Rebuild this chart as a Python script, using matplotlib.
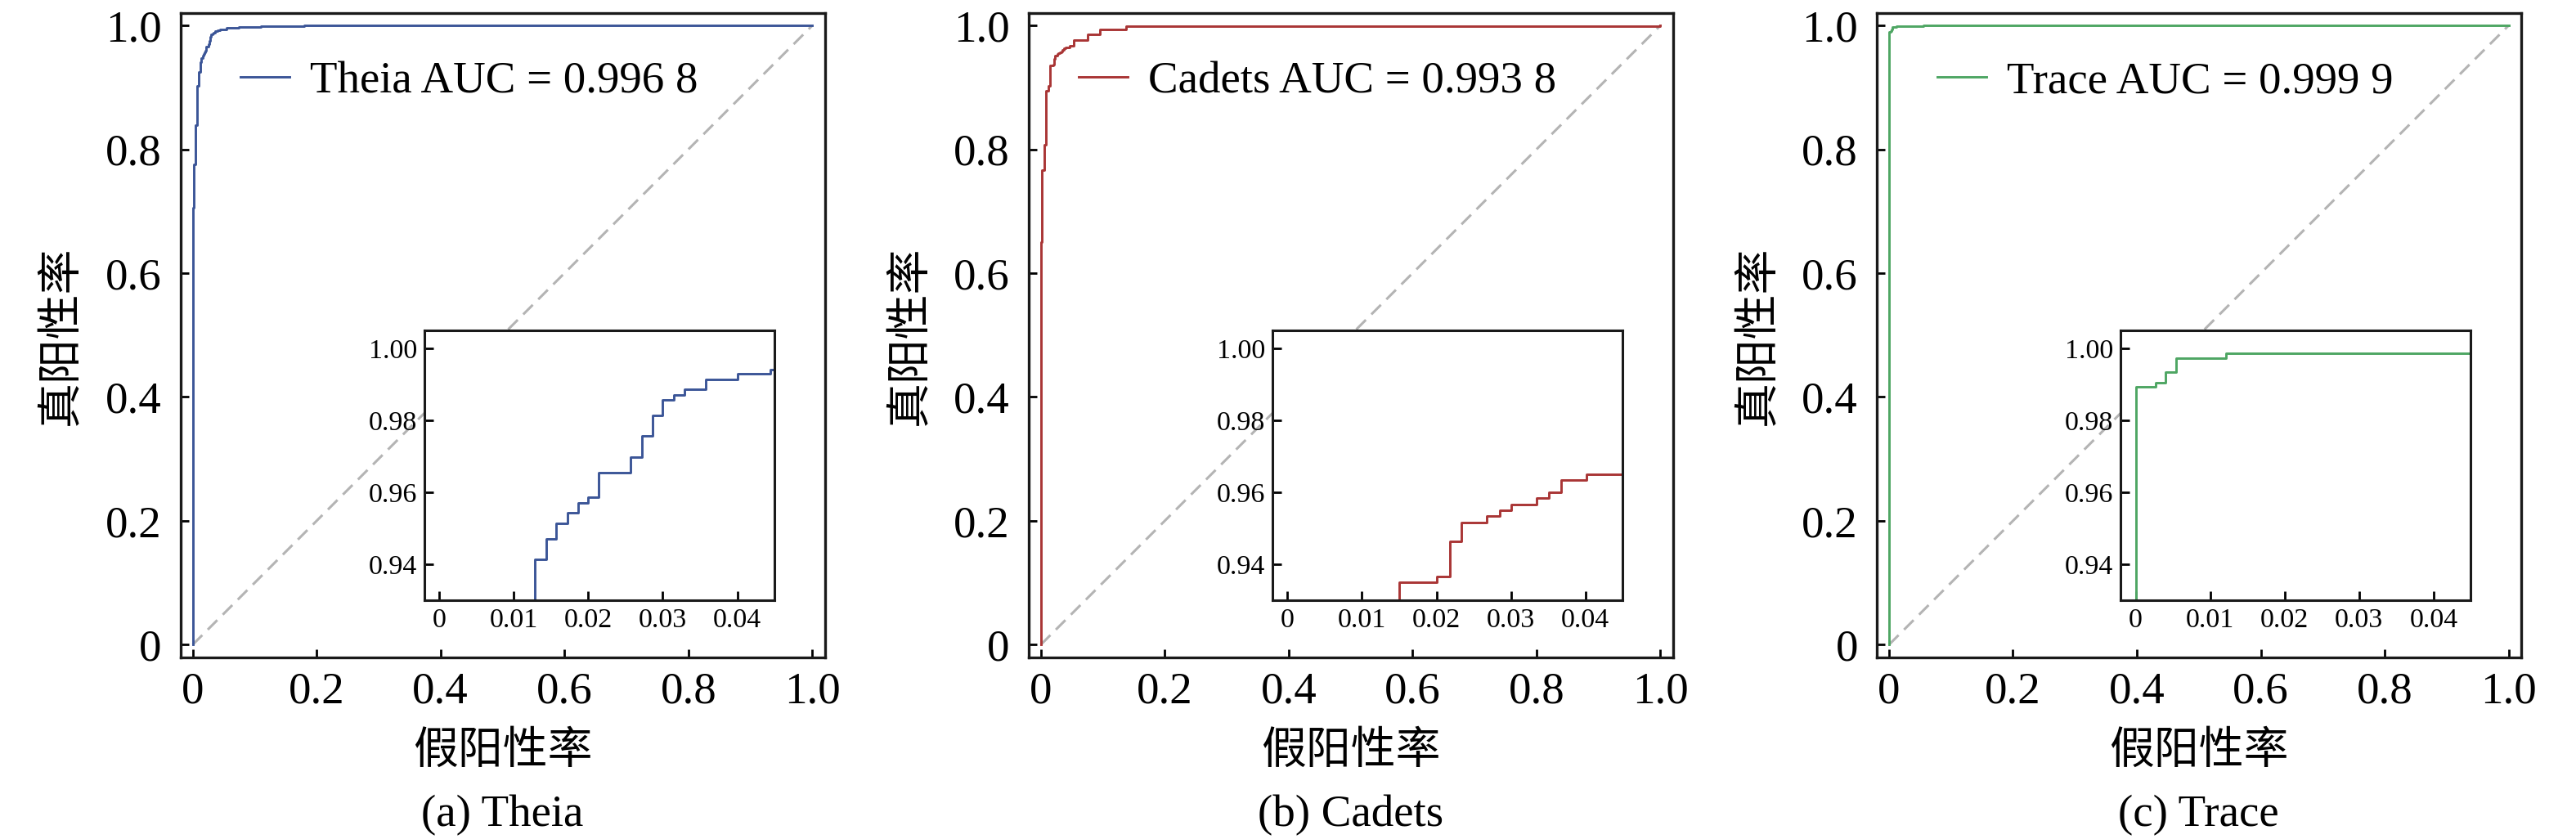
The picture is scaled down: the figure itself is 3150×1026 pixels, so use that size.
import matplotlib
matplotlib.use("Agg")
import matplotlib.pyplot as plt

plt.rcParams['font.family'] = ['Liberation Serif', 'DejaVu Serif']
plt.rcParams['mathtext.fontset'] = 'stix'

# ---------------- data ----------------
datasets = ["Theia", "Cadets", "Trace"]
panel_titles = ["(a) Theia", "(b) Cadets", "(c) Trace"]
auc_labels = ["Theia AUC = 0.996 8", "Cadets AUC = 0.993 8", "Trace AUC = 0.999 9"]
colors = ["#3b5597", "#a93535", "#4ea663"]

theia_fpr = [0.0, 0.0, 0.0022, 0.0044, 0.0075, 0.0100, 0.0128, 0.0143, 0.0157,
             0.0172, 0.0186, 0.0200, 0.0214, 0.0257, 0.0272, 0.0286, 0.0300,
             0.0315, 0.0329, 0.0358, 0.0400, 0.0444, 0.055, 0.075, 0.11, 0.18, 1.0]
theia_tpr = [0.0, 0.706, 0.776, 0.839, 0.902, 0.925, 0.9414, 0.9471, 0.9514,
             0.9543, 0.9571, 0.9586, 0.9656, 0.9699, 0.9757, 0.9815, 0.9857,
             0.9872, 0.9886, 0.9915, 0.9929, 0.9942, 0.9958, 0.9975, 0.9988, 1.0, 1.0]

cadets_fpr = [0.0, 0.0, 0.0022, 0.0050, 0.0088, 0.0120, 0.0150, 0.0200, 0.0218,
              0.0234, 0.0268, 0.0285, 0.0301, 0.0334, 0.0351, 0.0368, 0.0401,
              0.046, 0.053, 0.075, 0.095, 0.137, 1.0]
cadets_tpr = [0.0, 0.650, 0.766, 0.808, 0.895, 0.902, 0.935, 0.9367, 0.9465,
              0.9517, 0.9534, 0.9550, 0.9566, 0.9584, 0.9601, 0.9634, 0.9650,
              0.967, 0.976, 0.986, 0.993, 0.999, 1.0]

trace_fpr = [0.0, 0.0, 0.00265, 0.0040, 0.0054, 0.0121, 0.055, 1.0]
trace_tpr = [0.0, 0.9893, 0.9906, 0.9934, 0.9974, 0.9987, 1.0, 1.0]

fprs = [theia_fpr, cadets_fpr, trace_fpr]
tprs = [theia_tpr, cadets_tpr, trace_tpr]

main_ticks = [0, 0.2, 0.4, 0.6, 0.8, 1.0]
main_ticklabels = ["0", "0.2", "0.4", "0.6", "0.8", "1.0"]
inset_xticks = [0, 0.01, 0.02, 0.03, 0.04]
inset_xticklabels = ["0", "0.01", "0.02", "0.03", "0.04"]
inset_yticks = [0.94, 0.96, 0.98, 1.00]
inset_yticklabels = ["0.94", "0.96", "0.98", "1.00"]

xlabel = "假阳性率"
ylabel = "真阳性率"

# ---------------- layout ----------------
W, H = 3150, 1026
fig = plt.figure(figsize=(W / 100, H / 100), dpi=100)

ax_w, ax_h = 788, 787.5
lefts = [220.5, 1257.6, 2294.8]
bottom_px = 803.5
cjk = ['Noto Sans CJK SC', 'DejaVu Sans']
FS = 39.5

for i in range(3):
    ax = fig.add_axes([lefts[i] / W, (H - bottom_px) / H, ax_w / W, ax_h / H])
    ax.plot([0, 1], [0, 1], color="#b4b4b4", lw=2.2, linestyle=(0, (5.4, 3.1)), zorder=1)
    ax.plot(fprs[i], tprs[i], drawstyle="steps-post", color=colors[i], lw=2.1,
            label=auc_labels[i], zorder=3)
    ax.set_xlim(-0.02, 1.02)
    ax.set_ylim(-0.02, 1.02)
    ax.set_xticks(main_ticks)
    ax.set_xticklabels(main_ticklabels)
    ax.set_yticks(main_ticks)
    ax.set_yticklabels(main_ticklabels)
    ax.tick_params(axis='both', direction='in', length=7.5, width=2.0,
                   labelsize=FS, top=False, right=False)
    ax.tick_params(axis='x', pad=12.5)
    ax.tick_params(axis='y', pad=16.5)
    for s in ax.spines.values():
        s.set_linewidth(2.4)
        s.set_color("#1a1a1a")

    ax.set_xlabel(xlabel, fontsize=FS, family=cjk)
    ax.xaxis.set_label_coords(0.5, (bottom_px - 918) / ax_h)
    ax.xaxis.label.set_va('center')
    ax.set_ylabel(ylabel, fontsize=FS, family=cjk)
    ax.yaxis.set_label_coords(-146.5 / ax_w, 0.5)
    ax.yaxis.label.set_va('center')

    ax.text(0.5, (bottom_px - 997.5) / ax_h, panel_titles[i], transform=ax.transAxes,
            ha='center', va='center', fontsize=FS)

    leg = ax.legend(loc='center', bbox_to_anchor=(0.448, 0.893), frameon=False,
                    fontsize=FS, handlelength=1.1, handletextpad=0.45,
                    borderpad=0, borderaxespad=0)

    # inset
    ins = ax.inset_axes([0.379, 0.088, 0.543, 0.419])
    ins.set_facecolor("white")
    ins.plot(fprs[i], tprs[i], drawstyle="steps-post", color=colors[i], lw=2.1)
    ins.set_xlim(-0.002, 0.045)
    ins.set_ylim(0.93, 1.005)
    ins.set_xticks(inset_xticks)
    ins.set_xticklabels(inset_xticklabels)
    ins.set_yticks(inset_yticks)
    ins.set_yticklabels(inset_yticklabels)
    ins.tick_params(axis='both', direction='in', length=8, width=2.0,
                    labelsize=24.5, pad=6.5, top=False, right=False)
    for s in ins.spines.values():
        s.set_linewidth(2.2)
        s.set_color("#1a1a1a")

fig.savefig("out.png", dpi=100)
